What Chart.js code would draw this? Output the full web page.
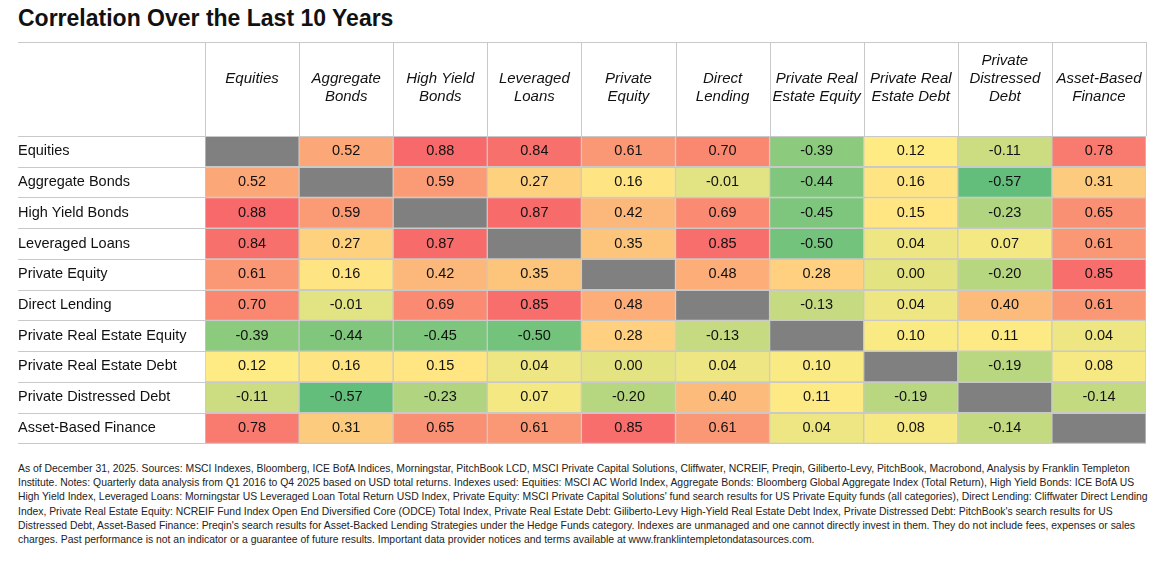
<!DOCTYPE html>
<html>
<head>
<meta charset="UTF-8">
<script src="https://cdn.jsdelivr.net/npm/chart.js"></script>
<style>
  body { margin: 0; background: #fff; font-family: "Liberation Sans", Arial, sans-serif; width: 1166px; height: 562px; overflow: hidden; }
  h1 { margin: 0; position: absolute; left: 18px; top: 5px; font-size: 23px; font-weight: bold; color: #111; }
  #wrap { position: absolute; left: 0; top: 40px; width: 1166px; height: 418px; }
  #note { position: absolute; left: 18px; top: 462px; width: 1135px; font-size: 10.4px; line-height: 14.2px; color: #222; }
</style>
</head>
<body>
<h1>Correlation Over the Last 10 Years</h1>
<div id="wrap"><canvas id="heat"></canvas></div>
<div id="note">As of December 31, 2025. Sources: MSCI Indexes, Bloomberg, ICE BofA Indices, Morningstar, PitchBook LCD, MSCI Private Capital Solutions, Cliffwater, NCREIF, Preqin,  Giliberto-Levy, PitchBook, Macrobond, Analysis by Franklin Templeton Institute. Notes: Quarterly data analysis from Q1 2016 to Q4 2025 based on USD total returns. Indexes used: Equities: MSCI AC World Index, Aggregate Bonds: Bloomberg Global Aggregate Index (Total Return), High Yield Bonds: ICE BofA US High Yield Index, Leveraged Loans: Morningstar US Leveraged Loan Total Return USD Index, Private Equity: MSCI Private Capital Solutions' fund search results for US Private Equity funds (all categories), Direct Lending: Cliffwater Direct Lending Index, Private Real Estate Equity: NCREIF Fund Index Open End Diversified Core (ODCE) Total Index, Private Real Estate Debt: Giliberto-Levy High-Yield Real Estate Debt Index, Private Distressed Debt: PitchBook's search results for US Distressed Debt, Asset-Based Finance: Preqin's search results for Asset-Backed Lending Strategies under the Hedge Funds category. Indexes are unmanaged and one cannot directly invest in them. They do not include fees, expenses or sales charges. Past performance is not an indicator or a guarantee of future results. Important data provider notices and terms available at www.franklintempletondatasources.com.</div>
<script>
// rows / columns
const rowNames = ['Equities', 'Aggregate Bonds', 'High Yield Bonds', 'Leveraged Loans', 'Private Equity',
  'Direct Lending', 'Private Real Estate Equity', 'Private Real Estate Debt', 'Private Distressed Debt', 'Asset-Based Finance'];
const colHeaders = [['Equities', ''], ['Aggregate', 'Bonds'], ['High Yield', 'Bonds'], ['Leveraged', 'Loans'], ['Private', 'Equity'],
  ['Direct', 'Lending'], ['Private Real', 'Estate Equity'], ['Private Real', 'Estate Debt'], ['Private', 'Distressed', 'Debt'], ['Asset-Based', 'Finance']];

// correlation values, null = diagonal
const corr = [
  [null, 0.52, 0.88, 0.84, 0.61, 0.70, -0.39, 0.12, -0.11, 0.78],
  [0.52, null, 0.59, 0.27, 0.16, -0.01, -0.44, 0.16, -0.57, 0.31],
  [0.88, 0.59, null, 0.87, 0.42, 0.69, -0.45, 0.15, -0.23, 0.65],
  [0.84, 0.27, 0.87, null, 0.35, 0.85, -0.50, 0.04, 0.07, 0.61],
  [0.61, 0.16, 0.42, 0.35, null, 0.48, 0.28, 0.00, -0.20, 0.85],
  [0.70, -0.01, 0.69, 0.85, 0.48, null, -0.13, 0.04, 0.40, 0.61],
  [-0.39, -0.44, -0.45, -0.50, 0.28, -0.13, null, 0.10, 0.11, 0.04],
  [0.12, 0.16, 0.15, 0.04, 0.00, 0.04, 0.10, null, -0.19, 0.08],
  [-0.11, -0.57, -0.23, 0.07, -0.20, 0.40, 0.11, -0.19, null, -0.14],
  [0.78, 0.31, 0.65, 0.61, 0.85, 0.61, 0.04, 0.08, -0.14, null]
];

// 3-colour scale green -> yellow -> red
function mix(a, b, t) {
  return 'rgb(' + a.map((v, i) => Math.round(v + (b[i] - v) * t)).join(',') + ')';
}
const GREEN = [99, 190, 123], YELLOW = [255, 235, 132], RED = [248, 105, 107];
const LO = -0.57, MID = 0.12, HI = 0.88;
function cellColor(v) {
  if (v === null) return '#808080';
  if (v <= MID) return mix(GREEN, YELLOW, Math.max(0, (v - LO) / (MID - LO)));
  return mix(YELLOW, RED, Math.min(1, (v - MID) / (HI - MID)));
}

const colKeys = colHeaders.map((h, i) => 'c' + i);
const datasets = rowNames.map((name, r) => ({
  label: name,
  data: colKeys.map(() => [r, r + 1]),
  backgroundColor: corr[r].map(cellColor),
  borderColor: '#c9c9c9',
  borderWidth: 1,
  borderSkipped: false,
  categoryPercentage: 1,
  barPercentage: 1
}));

const cellText = {
  id: 'cellText',
  afterDatasetsDraw(chart) {
    const ctx = chart.ctx;
    ctx.save();
    ctx.font = '14.5px "Liberation Sans", Arial, sans-serif';
    ctx.fillStyle = '#111';
    ctx.textAlign = 'center';
    ctx.textBaseline = 'middle';
    chart.data.datasets.forEach((ds, r) => {
      chart.getDatasetMeta(r).data.forEach((bar, c) => {
        const v = corr[r][c];
        if (v === null) return;
        ctx.fillText(v.toFixed(2), bar.x, (bar.y + bar.base) / 2);
      });
    });
    ctx.restore();
  }
};

const frame = {
  id: 'frame',
  afterDraw(chart) {
    const ctx = chart.ctx, x = chart.scales.x, y = chart.scales.y, a = chart.chartArea;
    ctx.save();
    ctx.strokeStyle = '#c9c9c9';
    ctx.lineWidth = 1;
    for (let i = 0; i <= rowNames.length; i++) {
      const py = Math.round(y.getPixelForValue(i)) + 0.5;
      ctx.beginPath(); ctx.moveTo(18, py); ctx.lineTo(a.right, py); ctx.stroke();
    }
    const w = x.getPixelForValue(1) - x.getPixelForValue(0);
    for (let i = 0; i <= colKeys.length; i++) {
      const px = Math.round(x.getPixelForValue(i) - w / 2) + 0.5;
      ctx.beginPath(); ctx.moveTo(px, 2); ctx.lineTo(px, a.top); ctx.stroke();
    }
    ctx.beginPath(); ctx.moveTo(18, 2.5); ctx.lineTo(a.right, 2.5); ctx.stroke();
    ctx.restore();
  }
};

new Chart(document.getElementById('heat'), {
  type: 'bar',
  data: { labels: colKeys, datasets },
  options: {
    responsive: true,
    maintainAspectRatio: false,
    animation: false,
    grouped: false,
    layout: { padding: { left: 18, right: 20, top: 2, bottom: 2 } },
    plugins: { legend: { display: false }, tooltip: { enabled: false } },
    scales: {
      x: {
        position: 'top',
        grid: { display: false },
        border: { display: false },
        ticks: {
          color: '#111',
          padding: 22,
          font: { size: 15, style: 'italic', family: '"Liberation Sans", Arial, sans-serif' },
          maxRotation: 0,
          autoSkip: false,
          callback: (v, i) => colHeaders[i]
        },
        afterFit: s => { s.height = 94; }
      },
      y: {
        min: 0, max: 10, reverse: true,
        grid: { display: false },
        border: { display: false },
        afterBuildTicks: s => { s.ticks = rowNames.map((n, i) => ({ value: i + 0.5 })); },
        ticks: {
          color: '#111',
          crossAlign: 'far',
          padding: 6,
          font: { size: 14.5, family: '"Liberation Sans", Arial, sans-serif' },
          callback: v => rowNames[Math.floor(v)]
        },
        afterFit: s => { s.width = 187; }
      }
    }
  },
  plugins: [cellText, frame]
});
</script>
</body>
</html>
